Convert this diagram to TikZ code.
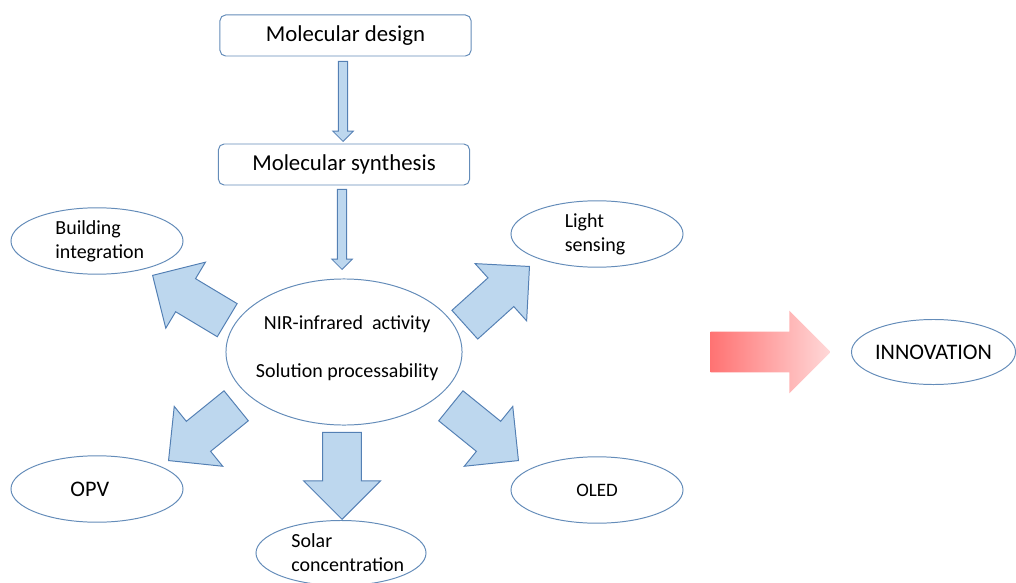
\documentclass[tikz,border=0pt]{standalone}
\usepackage{fontspec}
\setmainfont{Carlito}
\usepackage{tikz}
\usetikzlibrary{positioning,shapes.geometric,shapes.arrows}

\definecolor{arrowfill}{RGB}{189,215,238}
\definecolor{arrowline}{RGB}{84,128,180}
\definecolor{shapeline}{RGB}{100,140,185}

\begin{document}
\begin{tikzpicture}[
  x=0.025cm, y=-0.025cm,
  stage/.style={
    rectangle, rounded corners=4pt, draw=shapeline, line width=0.7pt,
    minimum width=6.275cm, minimum height=1.025cm, font=\fontsize{16.2}{19}\selectfont
  },
  bubble/.style={
    ellipse, draw=shapeline, line width=0.7pt, inner sep=0pt,
    minimum width=4.3cm, minimum height=1.66cm
  },
  lbl/.style={font=\fontsize{14.2}{17}\selectfont, align=left},
  bigtext/.style={font=\fontsize{15.8}{19}\selectfont},
  fatarrow/.style={
    single arrow, draw=arrowline, fill=arrowfill, line width=0.7pt,
    inner xsep=0pt, inner ysep=0.47cm, single arrow head extend=0.48cm,
    minimum height=2.175cm, anchor=tip
  },
  thinarrow/.style={
    single arrow, draw=arrowline, fill=arrowfill, line width=0.6pt,
    inner xsep=0pt, inner ysep=0.106cm, single arrow head extend=0.14cm,
    minimum height=2cm, rotate=-90, anchor=tip
  },
  push/.style={
    single arrow, draw=none, left color=red!55, right color=red!15,
    inner xsep=0pt, inner ysep=0.5cm, single arrow head extend=0.525cm,
    minimum height=3cm, anchor=tip
  }
]
\useasboundingbox (0,0) rectangle (1016,583);

% === Process chain ===
\node[stage] (design) at (345.5,35.5) {Molecular design};
\node[stage] (synth) at (344,164.5) {Molecular synthesis};
\node[thinarrow] (a1) at (343,142) {};
\node[thinarrow] (a2) at (342,270) {};

% Central properties
\node[bubble, minimum width=5.9cm, minimum height=3.65cm,
  label={[lbl, align=center, xshift=0.08cm, yshift=0.1cm]center:{NIR-infrared\ \ activity\\[17pt]Solution processability}}]
  (hub) at (344,352) {};

% === Applications ===
\node[bubble, label={[lbl, xshift=0.07cm]center:Building\\integration}] (build) at (97,241) {};
\node[bubble, label={[lbl, xshift=-0.05cm]center:Light\\sensing}] (light) at (597,234) {};
\node[bubble, label={[bigtext, xshift=-0.18cm]center:OPV}] (opv) at (97,489) {};
\node[bubble, label={[font=\fontsize{13.5}{16}\selectfont]center:OLED}] (oled) at (597,490) {};
\node[bubble, minimum width=4.25cm, minimum height=1.625cm,
  label={[lbl, xshift=0.17cm]center:Solar\\concentration}] (solar) at (341,553) {};

% Block arrows out of the hub
\node[fatarrow, rotate=149] (toBuild) at (152,275) {};
\node[fatarrow, rotate=42] (toLight) at (530,266) {};
\node[fatarrow, rotate=219] (toOPV) at (168,461) {};
\node[fatarrow, rotate=-39] (toOLED) at (519,461) {};
\node[fatarrow, rotate=-90] (toSolar) at (342,520) {};

% === Outcome ===
\node[push] (toInnov) at (831,352) {};
\node[bubble, minimum width=4.1cm, minimum height=1.625cm,
  label={[bigtext]center:INNOVATION}] (innov) at (933.5,352) {};

\end{tikzpicture}
\end{document}
